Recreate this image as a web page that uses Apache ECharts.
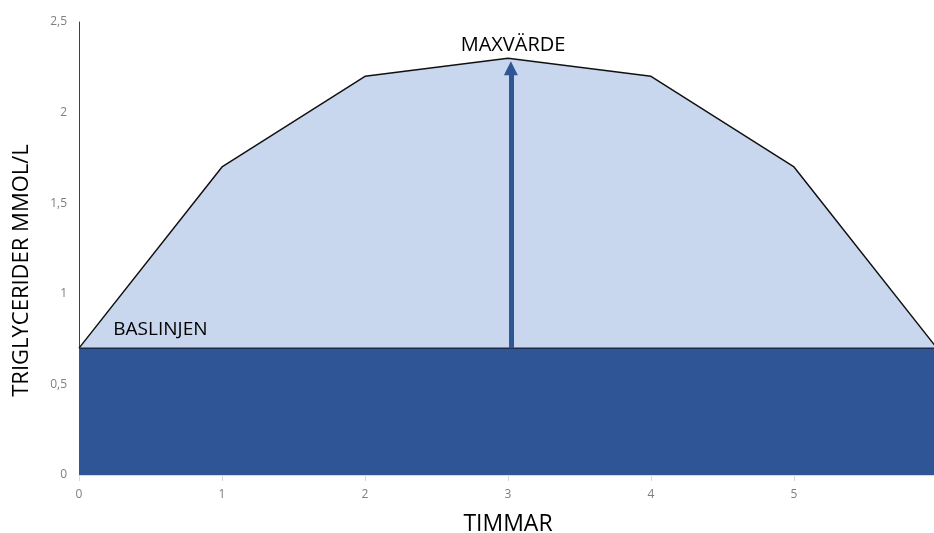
<!DOCTYPE html>
<html>
<head>
<meta charset="utf-8">
<script src="https://cdn.jsdelivr.net/npm/echarts@6/dist/echarts.min.js"></script>
<style>
  html, body { margin: 0; padding: 0; background: #fff; }
  #chart { width: 934px; height: 533px; }
</style>
</head>
<body>
<div id="chart"></div>
<script>
// Triglyceride curve over time, with the baseline level
const hours = [0, 1, 2, 3, 4, 5, 6];
const triglycerides = [0.7, 1.7, 2.2, 2.3, 2.2, 1.7, 0.7];
const baseline = [0.7, 0.7, 0.7, 0.7, 0.7, 0.7, 0.7];
const yTicks = [0, 0.5, 1, 1.5, 2, 2.5];
const peakHour = 3;
const peakValue = 2.3;
const baselineValue = 0.7;

const FONT = '"Open Sans", "Liberation Sans", sans-serif';

const chart = echarts.init(document.getElementById('chart'), null, { renderer: 'canvas' });

chart.setOption({
  animation: false,
  backgroundColor: '#ffffff',
  grid: {
    left: 79, right: -3, top: 22, bottom: 58,
    containLabel: false, outerBoundsMode: 'none'
  },
  xAxis: {
    type: 'value',
    min: hours[0],
    max: hours[hours.length - 1],
    interval: 1,
    name: 'TIMMAR',
    nameLocation: 'middle',
    nameGap: 38,
    nameTextStyle: { fontFamily: FONT, fontSize: 23, color: '#000' },
    axisLine: { show: true, lineStyle: { color: '#d9d9d9', width: 1 } },
    axisTick: { show: true, length: 6, lineStyle: { color: '#d9d9d9' } },
    axisLabel: { color: '#7f7f7f', fontFamily: FONT, fontSize: 12, margin: 14 },
    splitLine: { show: false }
  },
  yAxis: {
    type: 'value',
    min: yTicks[0],
    max: yTicks[yTicks.length - 1],
    interval: 0.5,
    name: 'TRIGLYCERIDER MMOL/L',
    nameLocation: 'middle',
    nameGap: 46,
    nameRotate: 90,
    nameTextStyle: { fontFamily: FONT, fontSize: 22, color: '#000', padding: [0, 44, 0, 0] },
    axisLine: { show: true, lineStyle: { color: '#404040', width: 1 } },
    axisTick: { show: false },
    axisLabel: {
      color: '#7f7f7f', fontFamily: FONT, fontSize: 12, margin: 12,
      formatter: v => String(v).replace('.', ',')
    },
    splitLine: { show: false }
  },
  series: [
    {
      name: 'Triglycerider',
      type: 'line',
      data: hours.map((h, i) => [h, triglycerides[i]]),
      symbol: 'none',
      z: 2,
      lineStyle: { color: '#111', width: 1.5 },
      areaStyle: { color: '#c9d7ee', opacity: 1 },
      markPoint: {
        silent: true,
        symbol: 'circle',
        symbolSize: 0,
        data: [{
          coord: [peakHour, peakValue],
          label: {
            show: true, formatter: 'MAXVÄRDE', position: 'top', distance: 3,
            offset: [5, 0],
            fontFamily: FONT, fontSize: 20, color: '#000'
          }
        }]
      }
    },
    {
      name: 'Baslinjen',
      type: 'line',
      data: hours.map((h, i) => [h, baseline[i]]),
      symbol: 'none',
      z: 3,
      lineStyle: { color: '#1a2a48', width: 1.5 },
      areaStyle: { color: '#2f5597', opacity: 1 },
      markLine: {
        silent: true,
        symbol: ['none', 'triangle'],
        symbolSize: 14,
        label: { show: false },
        lineStyle: { color: '#2f5597', width: 5, type: 'solid', opacity: 1 },
        itemStyle: { color: '#2f5597' },
        data: [[
          { coord: [peakHour + 0.02, baselineValue] },
          { coord: [peakHour + 0.02, peakValue - 0.055] }
        ]]
      },
      markPoint: {
        silent: true,
        symbol: 'circle',
        symbolSize: 0,
        data: [{
          coord: [0.24, baselineValue],
          label: {
            show: true, formatter: 'BASLINJEN', position: 'right', distance: 0,
            offset: [0, -19],
            fontFamily: FONT, fontSize: 19, color: '#000'
          }
        }]
      }
    }
  ]
});
</script>
</body>
</html>
